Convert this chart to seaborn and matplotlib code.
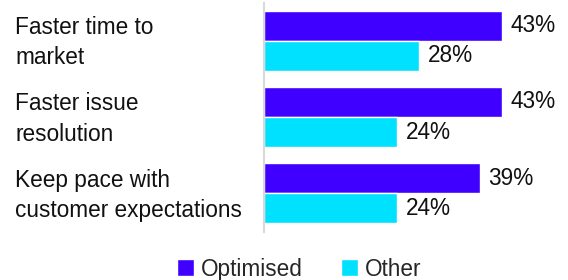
import pandas as pd
import matplotlib.pyplot as plt
import matplotlib.transforms as mtransforms
import seaborn as sns
from matplotlib.patches import Patch

# Benefits of optimisation, share of respondents (%)
categories = ['Faster time to\nmarket', 'Faster issue\nresolution', 'Keep pace with\ncustomer expectations']
optimised = [43, 43, 39]
other = [28, 24, 24]
series = ['Optimised', 'Other']
colors = ['#3F00FF', '#00E1FF']

df = pd.DataFrame({
    'category': categories * 2,
    'group': [series[0]] * 3 + [series[1]] * 3,
    'value': optimised + other,
})

sns.set_theme(style='white')
plt.rcParams['font.family'] = ['Liberation Sans', 'DejaVu Sans']
FS = 16.3

fig = plt.figure(figsize=(5.68, 2.8), dpi=100)
ax = fig.add_axes([264 / 568, 1 - 231.5 / 280, 1 - 264 / 568, 229 / 280])

sns.barplot(data=df, x='value', y='category', hue='group', palette=colors,
            orient='h', width=0.79, ax=ax, legend=False, saturation=1)

for cont in ax.containers:
    ax.bar_label(cont, fmt='%g%%', padding=6.5, fontsize=FS, color='#111111')

ax.set_xlim(0, 55)
ax.set_ylim(2.5, -0.5)
ax.set_xlabel('')
ax.set_ylabel('')
ax.set_xticks([])
for s in ['top', 'right', 'bottom']:
    ax.spines[s].set_visible(False)
ax.spines['left'].set_color('#d9d9d9')
ax.spines['left'].set_linewidth(1.5)

# category labels sit left-aligned at the figure edge, nudged up a little
ax.tick_params(axis='y', length=0, pad=179)
shift = mtransforms.ScaledTranslation(0, 4 / 100, fig.dpi_scale_trans)
for lbl in ax.get_yticklabels():
    lbl.set_horizontalalignment('left')
    lbl.set_fontsize(FS)
    lbl.set_color('#111111')
    lbl.set_linespacing(1.4)
    lbl.set_transform(lbl.get_transform() + shift)

handles = [Patch(facecolor=c, label=s) for c, s in zip(colors, series)]
fig.legend(handles=handles, loc='lower center', bbox_to_anchor=(0.527, -0.075), ncol=2,
           frameon=False, fontsize=FS, handlelength=0.75, handleheight=0.75,
           handletextpad=0.3, columnspacing=1.7)

fig.savefig('out.png', dpi=100)
